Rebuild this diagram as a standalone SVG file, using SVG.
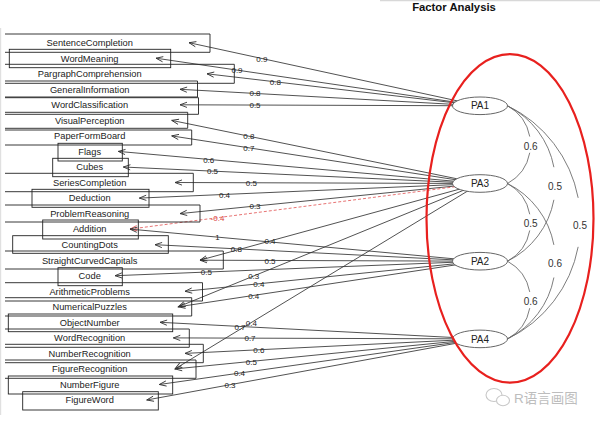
<svg xmlns="http://www.w3.org/2000/svg" width="600" height="423" viewBox="0 0 600 423">
<style>
.box{fill:none;stroke:#222;stroke-width:0.9}
.vt{font-family:"Liberation Sans",Arial,sans-serif;font-size:9.3px;fill:#222;text-anchor:middle}
.ld{fill:none;stroke:#333;stroke-width:0.85;marker-end:url(#ah)}
.neg{fill:none;stroke:#e35a5a;stroke-width:0.85;stroke-dasharray:3,2;marker-end:url(#ahr)}
.lt{font-family:"Liberation Sans",Arial,sans-serif;font-size:8px;fill:#222;text-anchor:middle}
.lr{font-family:"Liberation Sans",Arial,sans-serif;font-size:8px;fill:#d84040;text-anchor:middle}
.fe{fill:#fff;stroke:#555;stroke-width:0.9}
.ft{font-family:"Liberation Sans",Arial,sans-serif;font-size:10px;fill:#222;text-anchor:middle}
.cv{fill:none;stroke:#666;stroke-width:0.85}
.ct{font-family:"Liberation Sans",Arial,sans-serif;font-size:10px;fill:#333;text-anchor:middle}
</style>
<defs>
<marker id="ah" markerUnits="userSpaceOnUse" viewBox="-8 -5 10 10" markerWidth="10" markerHeight="10" refX="0" refY="0" orient="auto" overflow="visible"><path d="M-7,-2.6L0,0L-7,2.6" fill="none" stroke="#333" stroke-width="0.9"/></marker>
<marker id="ahr" markerUnits="userSpaceOnUse" viewBox="-8 -5 10 10" markerWidth="10" markerHeight="10" refX="0" refY="0" orient="auto" overflow="visible"><path d="M-7,-2.6L0,0L-7,2.6" fill="none" stroke="#e35a5a" stroke-width="0.9"/></marker>
</defs>
<rect width="600" height="423" fill="#fff"/>
<line x1="380" y1="0.6" x2="600" y2="0.6" stroke="#d8d8d8" stroke-width="1.2"/>
<line x1="0.6" y1="28" x2="0.6" y2="415" stroke="#e0e0e0" stroke-width="1.2"/>
<text x="454" y="10.8" font-family="'Liberation Sans',Arial,sans-serif" font-size="11.3px" font-weight="bold" fill="#111" text-anchor="middle">Factor Analysis</text>

<g id="connectors">
<line class="ld" x1="480" y1="105.8" x2="189" y2="42.7"/>
<line class="ld" x1="480" y1="105.8" x2="156" y2="58.2"/>
<line class="ld" x1="480" y1="105.8" x2="207" y2="73.8"/>
<line class="ld" x1="480" y1="105.8" x2="180" y2="89.3"/>
<line class="ld" x1="480" y1="105.8" x2="180" y2="104.8"/>
<line class="ld" x1="480" y1="183.5" x2="171.7" y2="120.4"/>
<line class="ld" x1="480" y1="183.5" x2="171.7" y2="135.9"/>
<line class="ld" x1="480" y1="183.5" x2="118.3" y2="151.4"/>
<line class="ld" x1="480" y1="183.5" x2="123.3" y2="167"/>
<line class="ld" x1="480" y1="183.5" x2="175" y2="182.5"/>
<line class="ld" x1="480" y1="183.5" x2="139.3" y2="198.1"/>
<line class="ld" x1="480" y1="183.5" x2="180" y2="213.6"/>
<line class="neg" x1="480" y1="183.5" x2="130" y2="229.1"/>
<line class="ld" x1="480" y1="183.5" x2="200" y2="260.2"/>
<line class="ld" x1="480" y1="183.5" x2="178.3" y2="306.8"/>
<line class="ld" x1="480" y1="183.5" x2="175" y2="368.9"/>
<line class="ld" x1="480" y1="261.2" x2="130" y2="229.1"/>
<line class="ld" x1="480" y1="261.2" x2="155" y2="244.7"/>
<line class="ld" x1="480" y1="261.2" x2="200" y2="260.2"/>
<line class="ld" x1="480" y1="261.2" x2="115" y2="275.7"/>
<line class="ld" x1="480" y1="261.2" x2="185" y2="291.3"/>
<line class="ld" x1="480" y1="261.2" x2="178.3" y2="306.8"/>
<line class="ld" x1="480" y1="338.9" x2="160" y2="322.3"/>
<line class="ld" x1="480" y1="338.9" x2="173.3" y2="337.9"/>
<line class="ld" x1="480" y1="338.9" x2="185" y2="353.4"/>
<line class="ld" x1="480" y1="338.9" x2="175" y2="368.9"/>
<line class="ld" x1="480" y1="338.9" x2="159.3" y2="384.5"/>
<line class="ld" x1="480" y1="338.9" x2="146.7" y2="400"/>
<text class="lt" x="261.8" y="61.5">0.9</text>
<text class="lt" x="237" y="73.1">0.9</text>
<text class="lt" x="275.3" y="84.8">0.8</text>
<text class="lt" x="255" y="96.4">0.8</text>
<text class="lt" x="255" y="108">0.5</text>
<text class="lt" x="248.8" y="139.2">0.8</text>
<text class="lt" x="248.8" y="150.8">0.7</text>
<text class="lt" x="208.7" y="162.6">0.6</text>
<text class="lt" x="212.5" y="174.4">0.5</text>
<text class="lt" x="251.3" y="185.8">0.5</text>
<text class="lt" x="224.5" y="197.8">0.4</text>
<text class="lt" x="255" y="209.4">0.3</text>
<text class="lr" x="217.5" y="220.8">-0.4</text>
<text class="lt" x="270" y="244.2">0.4</text>
<text class="lt" x="253.7" y="279.3">0.3</text>
<text class="lt" x="251.3" y="325.8">0.4</text>
<text class="lt" x="217.5" y="240.2">1</text>
<text class="lt" x="236.3" y="252">0.8</text>
<text class="lt" x="270" y="263.6">0.5</text>
<text class="lt" x="206.3" y="275.3">0.5</text>
<text class="lt" x="258.8" y="287">0.4</text>
<text class="lt" x="253.7" y="298.6">0.4</text>
<text class="lt" x="240" y="329.6">0.7</text>
<text class="lt" x="250" y="341.3">0.7</text>
<text class="lt" x="258.8" y="353">0.6</text>
<text class="lt" x="251.3" y="364.6">0.5</text>
<text class="lt" x="239.5" y="376.3">0.4</text>
<text class="lt" x="230" y="387.9">0.3</text>
</g>

<g id="SentenceCompletion"><path class="box" d="M5,34H210V52.3H5"/><text class="vt" x="89.7" y="46">SentenceCompletion</text></g>
<g id="WordMeaning"><rect class="box" x="9.3" y="49.3" width="161.4" height="18.4"/><text class="vt" x="89.7" y="61.5">WordMeaning</text></g>
<g id="PargraphComprehension"><path class="box" d="M5,64.3H234.3V83.3H5"/><text class="vt" x="89.7" y="77.1">PargraphComprehension</text></g>
<g id="GeneralInformation"><path class="box" d="M5,81H197.5V97H5"/><text class="vt" x="89.7" y="92.6">GeneralInformation</text></g>
<g id="WordClassification"><path class="box" d="M5,97.7H198.5V114.3H5"/><text class="vt" x="89.7" y="108.1">WordClassification</text></g>
<g id="VisualPerception"><path class="box" d="M5,112.3H187.7V128.3H5"/><text class="vt" x="89.7" y="123.7">VisualPerception</text></g>
<g id="PaperFormBoard"><path class="box" d="M5,130H191.7V145H5"/><text class="vt" x="89.7" y="139.2">PaperFormBoard</text></g>
<g id="Flags"><rect class="box" x="58" y="143.3" width="64.3" height="17.7"/><text class="vt" x="89.7" y="154.7">Flags</text></g>
<g id="Cubes"><rect class="box" x="52.7" y="158.3" width="75.6" height="18.4"/><text class="vt" x="89.7" y="170.3">Cubes</text></g>
<g id="SeriesCompletion"><path class="box" d="M5,173.3H193.3V191.7H5"/><text class="vt" x="89.7" y="185.8">SeriesCompletion</text></g>
<g id="Deduction"><rect class="box" x="32" y="189.3" width="117" height="18"/><text class="vt" x="89.7" y="201.4">Deduction</text></g>
<g id="ProblemReasoning"><path class="box" d="M5,205H200V222H5"/><text class="vt" x="89.7" y="216.9">ProblemReasoning</text></g>
<g id="Addition"><rect class="box" x="42.7" y="220" width="95.6" height="19"/><text class="vt" x="89.7" y="232.4">Addition</text></g>
<g id="CountingDots"><rect class="box" x="12.7" y="235.7" width="155.6" height="17.6"/><text class="vt" x="89.7" y="248">CountingDots</text></g>
<g id="StraightCurvedCapitals"><path class="box" d="M5,251H223.3V269H5"/><text class="vt" x="89.7" y="263.5">StraightCurvedCapitals</text></g>
<g id="Code"><rect class="box" x="58" y="267.7" width="64.3" height="18"/><text class="vt" x="89.7" y="279">Code</text></g>
<g id="ArithmeticProblems"><path class="box" d="M5,282.7H202.5V301H5"/><text class="vt" x="89.7" y="294.6">ArithmeticProblems</text></g>
<g id="NumericalPuzzles"><path class="box" d="M5,297.7H191.7V316H5"/><text class="vt" x="89.7" y="310.1">NumericalPuzzles</text></g>
<g id="ObjectNumber"><rect class="box" x="8.3" y="314" width="164.4" height="17.7"/><text class="vt" x="89.7" y="325.6">ObjectNumber</text></g>
<g id="WordRecognition"><path class="box" d="M5,329H189.3V347.3H5"/><text class="vt" x="89.7" y="341.2">WordRecognition</text></g>
<g id="NumberRecognition"><path class="box" d="M5,344.3H203.3V362.7H5"/><text class="vt" x="89.7" y="356.7">NumberRecognition</text></g>
<g id="FigureRecognition"><path class="box" d="M5,360H196V378.3H5"/><text class="vt" x="89.7" y="372.2">FigureRecognition</text></g>
<g id="NumberFigure"><rect class="box" x="8.3" y="376" width="164.4" height="18"/><text class="vt" x="89.7" y="387.8">NumberFigure</text></g>
<g id="FigureWord"><rect class="box" x="22.7" y="391.7" width="135.6" height="18.3"/><text class="vt" x="89.7" y="403.3">FigureWord</text></g>

<g id="PA1"><ellipse class="fe" cx="480" cy="105.8" rx="27.5" ry="8.8"/><text class="ft" x="480" y="109.4">PA1</text></g>
<g id="PA3"><ellipse class="fe" cx="480" cy="183.5" rx="27.5" ry="8.8"/><text class="ft" x="480" y="187.1">PA3</text></g>
<g id="PA2"><ellipse class="fe" cx="480" cy="261.2" rx="27.5" ry="8.8"/><text class="ft" x="480" y="264.8">PA2</text></g>
<g id="PA4"><ellipse class="fe" cx="480" cy="338.9" rx="27.5" ry="8.8"/><text class="ft" x="480" y="342.5">PA4</text></g>

<g id="correlations">
<path class="cv" d="M507.5,105.8A44.1,44.1 0 0 1 529.75,136.55M529.75,152.75A44.1,44.1 0 0 1 507.5,183.5"/>
<path class="cv" d="M507.5,183.5A44.1,44.1 0 0 1 529.75,214.25M529.75,230.45A44.1,44.1 0 0 1 507.5,261.2"/>
<path class="cv" d="M507.5,261.2A44.1,44.1 0 0 1 529.75,291.95M529.75,308.15A44.1,44.1 0 0 1 507.5,338.9"/>
<path class="cv" d="M507.5,105.8A86.56,86.56 0 0 1 553.9,167.2M553.9,199.8A86.56,86.56 0 0 1 507.5,261.2"/>
<path class="cv" d="M507.5,183.5A86.56,86.56 0 0 1 553.9,244.9M553.9,277.5A86.56,86.56 0 0 1 507.5,338.9"/>
<path class="cv" d="M507.5,105.8A129.46,129.46 0 0 1 578.16,197.85M578.16,246.85A129.46,129.46 0 0 1 507.5,338.9"/>
<text class="ct" x="530.7" y="150.3">0.6</text>
<text class="ct" x="530.7" y="227.3">0.5</text>
<text class="ct" x="530.7" y="304.9">0.6</text>
<text class="ct" x="555" y="189.6">0.5</text>
<text class="ct" x="555" y="267.3">0.6</text>
<text class="ct" x="580" y="229.1">0.5</text>
</g>

<ellipse id="highlight" cx="510" cy="218.4" rx="83.5" ry="164.3" fill="none" stroke="#e8201e" stroke-width="2.2"/>

<g id="watermark">
<ellipse cx="494" cy="395" rx="8" ry="6.5" fill="#fff" stroke="#c8c8c8" stroke-width="1.1"/>
<ellipse cx="503" cy="400.5" rx="6.5" ry="5.2" fill="#fff" stroke="#c8c8c8" stroke-width="1.1"/>
<text x="514" y="402.5" font-family="'Liberation Sans','Noto Sans CJK SC',sans-serif" font-size="13.5px" fill="#bdbdbd">R语言画图</text>
</g>
</svg>
